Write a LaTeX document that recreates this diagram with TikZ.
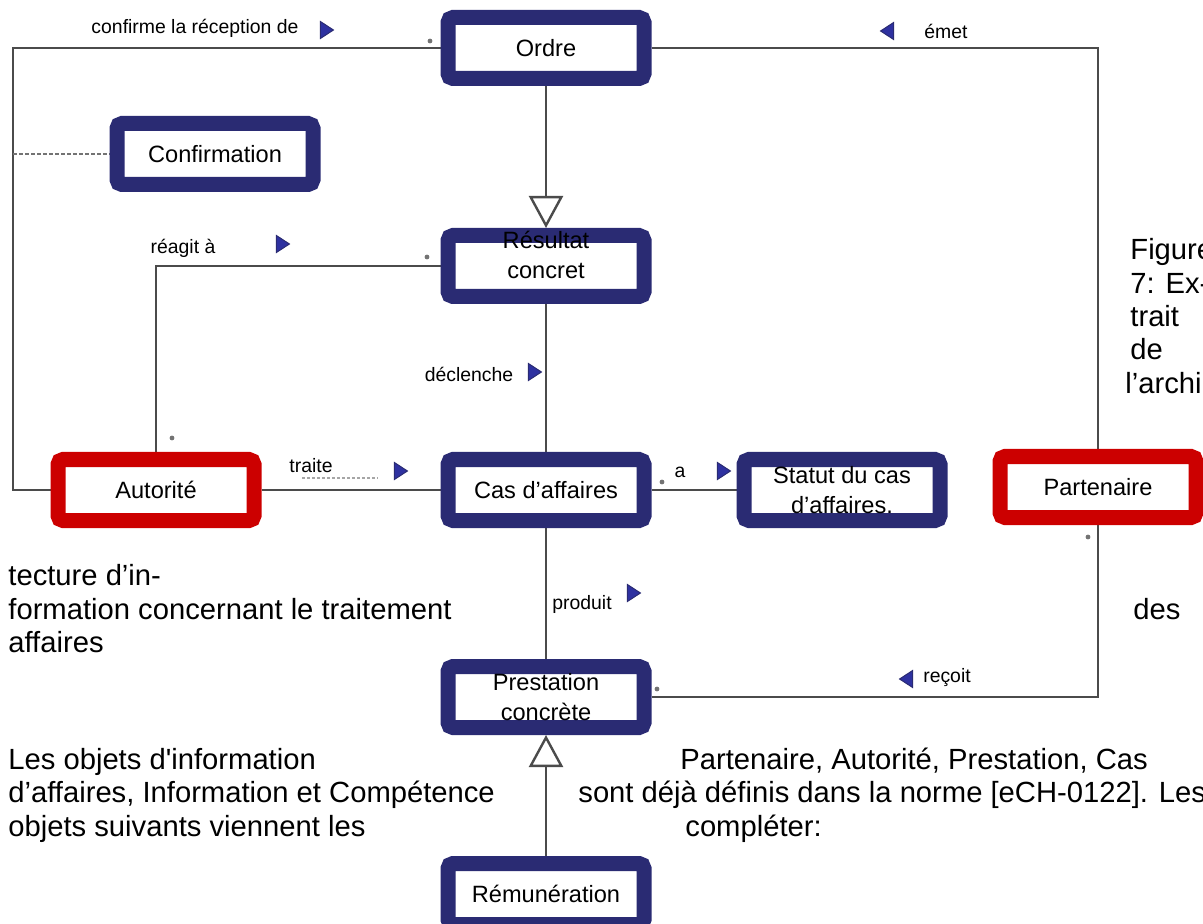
\documentclass[tikz,border=0pt]{standalone}
\usepackage{fontspec}
\setmainfont{Liberation Sans}
\usepackage{tikz}
\usetikzlibrary{arrows.meta, shapes.geometric, backgrounds}

\definecolor{umlnavy}{RGB}{42,43,115}
\definecolor{umlred}{RGB}{204,0,0}
\definecolor{markblue}{RGB}{46,49,160}
\definecolor{linegray}{RGB}{75,75,75}

\begin{document}
\begin{tikzpicture}[x=0.5pt, y=-0.5pt,
  entity/.style={draw=umlnavy, line width=7.5pt, fill=white, rounded corners=2.5pt,
    minimum width=98pt, minimum height=30.5pt, inner sep=1pt, align=center,
    font=\fontsize{11.8}{15}\selectfont},
  actor/.style={entity, draw=umlred},
  entitytext/.style={align=center, inner sep=0pt, font=\fontsize{11.8}{15}\selectfont},
  conn/.style={draw=linegray, line width=1.2pt},
  genarrow/.style={conn, -{Triangle[length=16pt, width=17pt, fill=white]}},
  lbl/.style={inner sep=0pt, font=\fontsize{9.7}{11}\selectfont},
  dirmark/.style={isosceles triangle, isosceles triangle stretches, fill=markblue,
    draw=umlnavy, line width=0.5pt, minimum width=8.5pt, minimum height=6.5pt, inner sep=0pt},
  dirR/.style={dirmark},
  dirL/.style={dirmark, shape border rotate=180},
  mult/.style={fill=black!55},
  captxt/.style={anchor=base west, inner sep=0pt, font=\fontsize{14.6}{16.75}\selectfont}]
  \useasboundingbox (0,0) rectangle (1203,924);
  \clip (0,0) rectangle (1203,924);

  % caption text behind the diagram
  \node[captxt] (fig-a) at (1130,260) {Figure};
  \node[captxt] (fig-b) at (1130,294) {7: Ex-};
  \node[captxt] (fig-c) at (1130,327) {trait};
  \node[captxt] (fig-d) at (1130,360) {de};
  \node[captxt] (fig-e) at (1125,394) {l’archi};
  \node[captxt] (fig-f) at (8,585) {tecture d’in-};
  \node[captxt] (fig-g) at (8,619) {formation concernant le traitement};
  \node[captxt] (fig-h) at (1133,619) {des};
  \node[captxt] (fig-i) at (8,652) {affaires};
  \node[captxt] (txt-a) at (8,769) {Les objets d\textquotesingle information};
  \node[captxt] (txt-b) at (680,769) {Partenaire, Autorité, Prestation, Cas};
  \node[captxt] (txt-c) at (8,802) {d’affaires, Information et Compétence};
  \node[captxt] (txt-d) at (578,802) {sont déjà définis dans la norme [eCH-0122]. Les};
  \node[captxt] (txt-e) at (8,836) {objets suivants viennent les};
  \node[captxt] (txt-f) at (685,836) {compléter:};

  % classes
  \coordinate (leftrail) at (13,49);
  \node[entity] (ordre) at (546,48) {Ordre};
  \node[entity] (confirmation) at (215,154) {Confirmation};
  \node[entity] (resultat) at (546,266) {};
  \node[entitytext] (resultat-txt) at ([yshift=5.5pt]resultat.center) {Résultat\\concret};
  \node[actor] (autorite) at (156,490) {Autorité};
  \node[entity] (cas) at (546,490) {Cas d’affaires};
  \node[entity] (statut) at (842,490) {Statut du cas\\d’affaires.};
  \node[actor] (partenaire) at (1098,487) {Partenaire};
  \node[entity] (prestation) at (546,697) {Prestation\\concrète};
  \node[entity] (remuneration) at (546,894) {Rémunération};

  \begin{scope}[on background layer]
    % associations
    \draw[conn] (autorite.west) -- (autorite.west -| leftrail) |- (ordre.west);
    \draw[conn, draw=black!55, line width=1pt, dash pattern=on 2pt off 1pt]
      (leftrail |- confirmation.west) -- (confirmation.west);
    \draw[conn] (ordre.east) -| (partenaire.north);
    \draw[conn] (resultat.west) -| (autorite.north);
    \draw[conn] (resultat.south) -- (cas.north);
    \draw[conn] (autorite.east) -- (cas.west);
    \draw[conn] (cas.east) -- (statut.west);
    \draw[conn] (cas.south) -- (prestation.north);
    \draw[conn] (prestation.east) -| (partenaire.south);
    % generalisations
    \draw[genarrow] (ordre.south) -- (resultat.north);
    \draw[genarrow] (remuneration.north) -- (prestation.south);
  \end{scope}

  % association names
  \node[lbl] (l-confirme) at (195,28) {confirme la réception de};
  \node[dirR] (m-confirme) at (325,30) {};
  \node[lbl] (l-emet) at (946,31) {émet};
  \node[dirL] (m-emet) at (889,31) {};
  \node[lbl] (l-reagit) at (183,248) {réagit à};
  \node[dirR] (m-reagit) at (281,244) {};
  \node[lbl] (l-declenche) at (469,374) {déclenche};
  \node[dirR] (m-declenche) at (533,372) {};
  \node[lbl] (l-traite) at (311,466) {traite};
  \node[dirR] (m-traite) at (399,471) {};
  \draw[black!35, line width=0.6pt, dash pattern=on 1.5pt off 1pt] (302,478) -- (378,478);
  \node[lbl] (l-a) at (680,472) {a};
  \node[dirR] (m-a) at (722,471) {};
  \node[lbl] (l-produit) at (582,604) {produit};
  \node[dirR] (m-produit) at (632,593) {};
  \node[lbl] (l-recoit) at (947,678) {reçoit};
  \node[dirL] (m-recoit) at (908,679) {};

  % multiplicities
  \foreach \p in {(430,41), (427,257), (172,438), (662,482), (1088,537), (657,689)}
    \fill[mult] \p circle (1.2pt);
\end{tikzpicture}
\end{document}
